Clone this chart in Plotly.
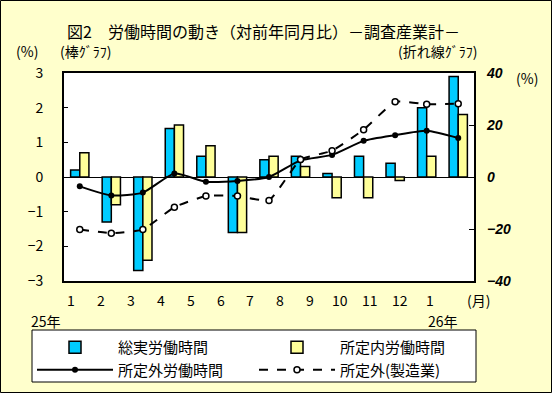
import plotly.graph_objects as go

months = ["1", "2", "3", "4", "5", "6", "7", "8", "9", "10", "11", "12", "1"]
total_hours = [0.2, -1.3, -2.7, 1.4, 0.6, -1.6, 0.5, 0.6, 0.1, 0.6, 0.4, 2.0, 2.9]
scheduled_hours = [0.7, -0.8, -2.4, 1.5, 0.9, -1.6, 0.6, 0.3, -0.6, -0.6, -0.1, 0.6, 1.8]
overtime_hours = [-3.6, -7.1, -6.0, 1.3, -1.8, -1.5, 0.0, 6.4, 8.5, 13.9, 16.1, 17.8, 15.0]
overtime_mfg = [-20.2, -21.6, -20.2, -11.6, -7.3, -7.3, -9.0, 6.7, 10.1, 18.2, 28.9, 28.0, 28.2]
left_ticks = [-3, -2, -1, 0, 1, 2, 3]
right_ticks = [-40, -20, 0, 20, 40]

W, H = 552, 393
ML, MR, MT, MB = 64, 78, 73, 112
PW, PH = W - ML - MR, H - MT - MB
FONT = "Noto Sans CJK JP"
BG = "#FFFFCC"

def px(x):
    return (x - ML) / PW

def py(y):
    return (H - MB - y) / PH

xi = list(range(len(months)))

fig = go.Figure()
fig.add_trace(go.Bar(x=xi, y=total_hours, name="総実労働時間",
                     marker=dict(color="#00CCFF", line=dict(color="black", width=1.5)),
                     yaxis="y"))
fig.add_trace(go.Bar(x=xi, y=scheduled_hours, name="所定内労働時間",
                     marker=dict(color="#FFFF99", line=dict(color="black", width=1.5)),
                     yaxis="y"))
fig.add_trace(go.Scatter(x=xi, y=overtime_hours, name="所定外労働時間", mode="lines+markers",
                         line=dict(color="black", width=2, shape="spline", smoothing=0.6),
                         marker=dict(size=6, color="black"), yaxis="y2"))
fig.add_trace(go.Scatter(x=xi, y=overtime_mfg, name="所定外(製造業)", mode="lines+markers",
                         line=dict(color="black", width=2, dash="dash", shape="spline", smoothing=0.4),
                         marker=dict(size=6, color="white", line=dict(color="black", width=1.5)),
                         yaxis="y2"))

annotations = []
for i, m in enumerate(months):
    annotations.append(dict(x=px(71 + 29.9 * i), y=py(300), xref="paper", yref="paper",
                            xanchor="center", yanchor="middle",
                            text=m, showarrow=False, font=dict(size=14, color="black", family=FONT)))
extra = [
    ("(月)", 478, 300, 14),
    ("25年", 46, 321, 14),
    ("26年", 443, 321, 14),
    ("(%)", 27, 51, 14),
    ("(棒ｸﾞﾗﾌ)", 85, 51, 14),
    ("(折れ線ｸﾞﾗﾌ)", 437, 51, 14),
    ("(%)", 527, 78, 14),
    ("図2　労働時間の動き（対前年同月比）－調査産業計－", 263, 31, 16),
]
for t, x, y, s in extra:
    annotations.append(dict(x=px(x), y=py(y), xref="paper", yref="paper", text=t,
                            xanchor="center", yanchor="middle",
                            showarrow=False, font=dict(size=s, color="black", family=FONT)))

fig.update_layout(
    width=W, height=H,
    margin=dict(l=ML, r=MR, t=MT, b=MB, autoexpand=False),
    paper_bgcolor=BG, plot_bgcolor="white",
    font=dict(family=FONT, color="black"),
    barmode="group", bargap=0.42, bargroupgap=0,
    xaxis=dict(range=[-0.5, len(months) - 0.5], showticklabels=False, ticks="",
               showgrid=False, zeroline=False, showline=True, mirror=True,
               linecolor="black", linewidth=2, automargin=False),
    yaxis=dict(range=[-3, 3], tickvals=left_ticks, ticks="inside", ticklen=4,
               tickcolor="black", showgrid=False, zeroline=True, zerolinecolor="black",
               zerolinewidth=1, showline=True, mirror=True, linecolor="black", linewidth=2,
               tickfont=dict(size=14, family=FONT), ticklabelstandoff=16, automargin=False),
    yaxis2=dict(range=[-40, 40], tickvals=right_ticks, overlaying="y", side="right",
                ticks="inside", ticklen=5, tickcolor="black", showgrid=False, zeroline=False,
                showline=False, automargin=False,
                tickfont=dict(size=14, family="Liberation Sans", style="italic", weight="bold"),
                ticklabelstandoff=12),
    legend=dict(orientation="h", x=px(32), y=py(331), xanchor="left", yanchor="top",
                bgcolor="rgba(0,0,0,0)", borderwidth=0,
                entrywidth=131, font=dict(size=15, family=FONT), itemwidth=76,
                traceorder="normal"),
    annotations=annotations,
    shapes=[
        dict(type="rect", xref="paper", yref="paper",
             x0=px(0.5), x1=px(W - 0.5), y0=py(H - 0.5), y1=py(0.5),
             line=dict(color="black", width=1), layer="below"),
        dict(type="rect", xref="paper", yref="paper",
             x0=px(32), x1=px(476), y0=py(382), y1=py(330),
             fillcolor="white", line=dict(color="black", width=1), layer="above"),
    ],
)

fig.write_html("out.html", config={"displayModeBar": False},
               post_script="document.body.style.margin='0';")
